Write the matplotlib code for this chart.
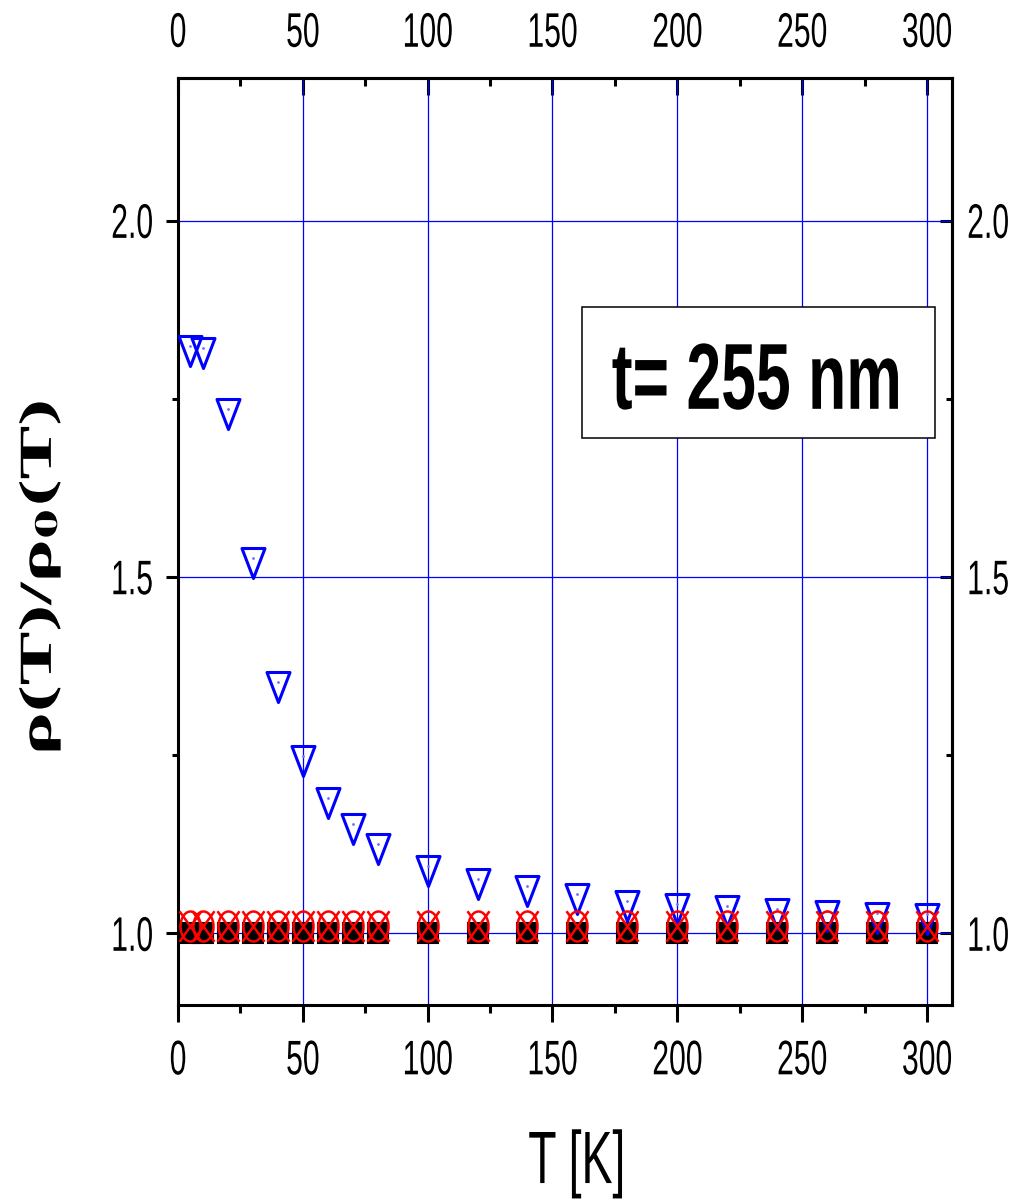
import numpy as np
import matplotlib
matplotlib.use('Agg')
import matplotlib.pyplot as plt
from matplotlib import patheffects
from matplotlib.path import Path
from matplotlib.patches import Rectangle
from matplotlib.ticker import MultipleLocator
from matplotlib.transforms import Affine2D

# temperatures (K)
T = [5, 10, 20, 30, 40, 50, 60, 70, 80, 100, 120, 140, 160, 180, 200, 220, 240, 260, 280, 300]
# rho(T)/rho0(T) for the four series
ratio_tri = [1.824, 1.821, 1.735, 1.527, 1.353, 1.249, 1.190, 1.153, 1.126, 1.095,
             1.077, 1.066, 1.055, 1.046, 1.042, 1.038, 1.035, 1.032, 1.029, 1.028]
ratio_sq = [1.000, 1.000, 1.000, 1.000, 1.000, 1.000, 1.000, 1.000, 1.000, 1.000,
            1.000, 1.000, 1.000, 1.000, 1.000, 1.000, 1.000, 1.000, 1.000, 1.000]
ratio_circ = [1.011, 1.011, 1.011, 1.011, 1.011, 1.011, 1.011, 1.011, 1.011, 1.011,
              1.011, 1.011, 1.011, 1.011, 1.011, 1.011, 1.011, 1.011, 1.011, 1.011]
ratio_x = [1.011, 1.011, 1.011, 1.011, 1.011, 1.011, 1.011, 1.011, 1.011, 1.011,
           1.011, 1.011, 1.011, 1.011, 1.011, 1.011, 1.011, 1.011, 1.011, 1.011]

x_ticks = [0, 50, 100, 150, 200, 250, 300]
y_ticks = [1.0, 1.5, 2.0]
note = 't= 255 nm'

plt.rcParams['mathtext.fontset'] = 'stix'


# stretch glyphs vertically (the original picture was stretched in y)
# ax_, ay_ = anchor as fraction of the glyph extents, ay_=None -> baseline
class Stretch(patheffects.AbstractPathEffect):
    def __init__(self, sy, ax_=0.5, ay_=None):
        super().__init__()
        self.sy = sy
        self.ax_ = ax_
        self.ay_ = ay_

    def draw_path(self, renderer, gc, tpath, affine, rgbFace=None):
        ext = tpath.get_extents()
        y0 = 0.0 if self.ay_ is None else ext.y0 + self.ay_ * ext.height
        t = Affine2D().translate(0, -y0).scale(1, self.sy).translate(0, y0)
        renderer.draw_path(gc, tpath, t + affine, rgbFace)


# custom markers: tall down-triangle (centroid at data point), ellipse, tall cross
tri = Path([(-0.575, 0.5), (0.575, 0.5), (0, -1), (-0.575, 0.5)],
           [Path.MOVETO, Path.LINETO, Path.LINETO, Path.CLOSEPOLY])
th = np.linspace(0, 2 * np.pi, 60)
ell = Path(np.column_stack([0.667 * np.cos(th), np.sin(th)]))
cross = Path([(-0.72, -1), (0.72, 1), (-0.72, 1), (0.72, -1)],
             [Path.MOVETO, Path.LINETO, Path.MOVETO, Path.LINETO])

fig = plt.figure(figsize=(10.17, 11.99), dpi=100)
ax = fig.add_axes([0.175, 0.162, 0.761, 0.773])

ax.plot(T, ratio_sq, ls='none', marker='s', ms=14, mfc='black', mec='black', mew=1.5, zorder=3)
ax.plot(T, ratio_tri, ls='none', marker=tri, ms=28.8, mfc='none', mec='#0000FF', mew=2.2, zorder=4)
ax.plot(T, ratio_tri, ls='none', marker='.', ms=2, color='#7070FF', zorder=4)
ax.plot(T, ratio_circ, ls='none', marker=ell, ms=21.6, mfc='none', mec='#FF0000', mew=1.8, zorder=5)
ax.plot(T, ratio_x, ls='none', marker=cross, ms=22, mfc='none', mec='#FF0000', mew=1.8, zorder=6)

ax.set_xlim(0, 310)
ax.set_ylim(0.9, 2.2)
ax.set_xticks(x_ticks)
ax.set_yticks(y_ticks)
ax.xaxis.set_minor_locator(MultipleLocator(25))
ax.yaxis.set_minor_locator(MultipleLocator(0.25))
ax.grid(True, which='major', color='#0000FF', lw=0.9)
ax.set_axisbelow(True)
for s in ax.spines.values():
    s.set_linewidth(2.2)

lsize = 21.7
ax.tick_params(axis='x', which='major', direction='out', length=12, width=2.2, pad=13,
               labelsize=lsize, labelfontfamily='Liberation Sans')
ax.tick_params(axis='x', which='minor', direction='out', length=6, width=2.2)
ax.tick_params(axis='y', which='major', direction='out', length=9, width=2.2, pad=9,
               labelsize=lsize, labelfontfamily='Liberation Sans')
ax.tick_params(axis='y', which='minor', direction='out', length=4.5, width=2.2)

top = ax.secondary_xaxis('top')
top.set_xticks(x_ticks)
top.xaxis.set_minor_locator(MultipleLocator(25))
top.tick_params(axis='x', which='major', direction='in', length=12, width=2.2, pad=18,
                labelsize=lsize, labelfontfamily='Liberation Sans')
top.tick_params(axis='x', which='minor', direction='in', length=6, width=2.2)
right = ax.secondary_yaxis('right')
right.set_yticks(y_ticks)
right.yaxis.set_minor_locator(MultipleLocator(0.25))
right.tick_params(axis='y', which='major', direction='in', length=9, width=2.2, pad=11,
                  labelsize=lsize, labelfontfamily='Liberation Sans')
right.tick_params(axis='y', which='minor', direction='in', length=4.5, width=2.2)
for a in (top, right):
    for s in a.spines.values():
        s.set_linewidth(2.2)

for lab in ax.get_xticklabels():
    lab.set_path_effects([Stretch(1.61, ay_=1.0)])
for lab in top.get_xticklabels():
    lab.set_path_effects([Stretch(1.61, ay_=0.0)])
for lab in ax.get_yticklabels() + right.get_yticklabels():
    lab.set_path_effects([Stretch(1.61, ay_=0.5)])

# label box
ax.add_patch(Rectangle((0.522, 0.611), 0.456, 0.142, transform=ax.transAxes,
                       facecolor='white', edgecolor='black', lw=1.1, zorder=7))
ax.text(0.748, 0.643, note, transform=ax.transAxes, ha='center', va='baseline',
        fontsize=45, fontweight='bold', family='Liberation Sans', zorder=8,
        path_effects=[Stretch(1.5)])

fig.text(0.567, 0.0133, 'T [K]', ha='center', va='baseline', fontsize=33.4,
         family='Liberation Sans', path_effects=[Stretch(1.6)])
fig.text(0.040, 0.518, r'ρ(T)/ρ$_\mathbf{0}$(T)', rotation=90, ha='center', va='center',
         fontsize=58, fontweight='bold', family='Liberation Serif',
         path_effects=[Stretch(0.57, ay_=0.5)])

fig.savefig('out.png', dpi=100)
